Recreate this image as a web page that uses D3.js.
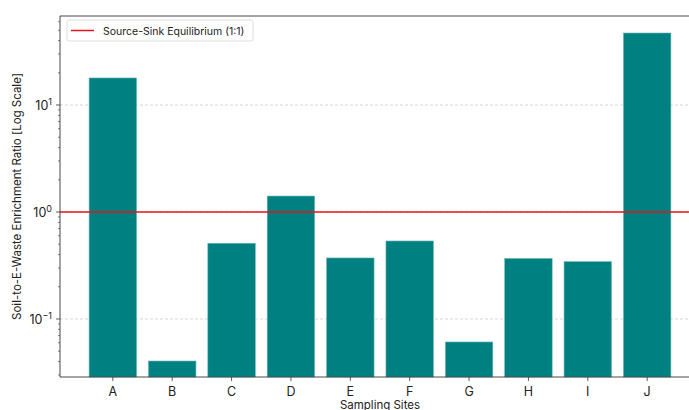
<!DOCTYPE html>
<html>
<head>
<meta charset="utf-8">
<script src="https://cdn.jsdelivr.net/npm/d3@7"></script>
<style>
  body { margin: 0; background: #fff; overflow: hidden; }
  svg { font-family: Inter, "DejaVu Sans", sans-serif; }
</style>
</head>
<body>
<svg id="chart" width="689" height="410"></svg>
<script>
const sites = ['A', 'B', 'C', 'D', 'E', 'F', 'G', 'H', 'I', 'J'];
const ratios = [17.9, 0.0405, 0.51, 1.41, 0.372, 0.536, 0.061, 0.368, 0.344, 47.1];
const majorTicks = [0.1, 1, 10];
const equilibrium = 1;

// the figure's right edge is cropped, so the axes run past the canvas
const margin = { top: 16, right: -11, bottom: 33, left: 60 };
const width = 689 - margin.left - margin.right;
const height = 410 - margin.top - margin.bottom;

const svg = d3.select('#chart');
const g = svg.append('g').attr('transform', `translate(${margin.left},${margin.top})`);

const n = sites.length;
const x = d3.scaleLinear().domain([-0.89, n - 1 + 0.89]).range([0, width]);
const y = d3.scaleLog().domain([0.0287, 67.9]).range([height, 0]);

// grid
g.selectAll('.grid')
  .data(majorTicks)
  .enter().append('line')
  .attr('x1', 0).attr('x2', width)
  .attr('y1', d => y(d)).attr('y2', d => y(d))
  .attr('stroke', '#cccccc')
  .attr('stroke-width', 0.8)
  .attr('stroke-dasharray', '3,2');

// bars
const bw = x(0.4) - x(-0.4);
g.selectAll('.bar')
  .data(sites)
  .enter().append('rect')
  .attr('x', (d, i) => x(i) - bw / 2)
  .attr('width', bw)
  .attr('y', (d, i) => y(ratios[i]))
  .attr('height', (d, i) => height - y(ratios[i]))
  .attr('fill', '#008080')
  .attr('stroke', '#6fb7b7')
  .attr('stroke-width', 0.6);

// equilibrium line
g.append('line')
  .attr('x1', 0).attr('x2', width)
  .attr('y1', y(equilibrium)).attr('y2', y(equilibrium))
  .attr('stroke', '#e8141a')
  .attr('stroke-width', 1.5);

// y axis with minor ticks
const minor = [];
for (let e = -2; e <= 1; e++) {
  for (let m = 2; m <= 9; m++) {
    const v = m * Math.pow(10, e);
    if (v >= y.domain()[0] && v <= y.domain()[1]) minor.push(v);
  }
}
const yAxis = g.append('g');
yAxis.selectAll('.minor')
  .data(minor)
  .enter().append('line')
  .attr('x1', -2).attr('x2', 0)
  .attr('y1', d => y(d)).attr('y2', d => y(d))
  .attr('stroke', '#333').attr('stroke-width', 0.6);
yAxis.selectAll('.major')
  .data(majorTicks)
  .enter().append('line')
  .attr('x1', -4).attr('x2', 0)
  .attr('y1', d => y(d)).attr('y2', d => y(d))
  .attr('stroke', '#333').attr('stroke-width', 0.8);
const yLabels = yAxis.selectAll('.ylab')
  .data(majorTicks)
  .enter().append('text')
  .attr('x', -8)
  .attr('y', d => y(d) + 5)
  .attr('text-anchor', 'end')
  .attr('font-size', 12.5)
  .attr('fill', '#222');
yLabels.append('tspan').text('10');
yLabels.append('tspan')
  .attr('dy', -5)
  .attr('font-size', 9)
  .text(d => String(Math.round(Math.log10(d))).replace('-', '\u2212'));

// x axis ticks
const xAxis = g.append('g').attr('transform', `translate(0,${height})`);
xAxis.selectAll('.xt')
  .data(sites)
  .enter().append('line')
  .attr('x1', (d, i) => x(i)).attr('x2', (d, i) => x(i))
  .attr('y1', 0).attr('y2', 4)
  .attr('stroke', '#333').attr('stroke-width', 0.8);
xAxis.selectAll('.xl')
  .data(sites)
  .enter().append('text')
  .attr('x', (d, i) => x(i))
  .attr('y', 19)
  .attr('text-anchor', 'middle')
  .attr('font-size', 12.5)
  .attr('fill', '#222')
  .text(d => d);

// spines (left, top, bottom; right one falls outside the canvas)
const spine = [[0, 0, 0, height], [0, 0, width, 0], [0, height, width, height]];
g.selectAll('.spine')
  .data(spine)
  .enter().append('line')
  .attr('x1', d => d[0]).attr('y1', d => d[1])
  .attr('x2', d => d[2]).attr('y2', d => d[3])
  .attr('stroke', '#333')
  .attr('stroke-width', 0.9);

// axis titles
svg.append('text')
  .attr('x', margin.left + width / 2)
  .attr('y', 409)
  .attr('text-anchor', 'middle')
  .attr('font-size', 11.5)
  .attr('fill', '#222')
  .text('Sampling Sites');
svg.append('text')
  .attr('transform', `translate(21,${margin.top + height / 2}) rotate(-90)`)
  .attr('text-anchor', 'middle')
  .attr('font-size', 11.5)
  .attr('fill', '#222')
  .text('Soil-to-E-Waste Enrichment Ratio [Log Scale]');

// legend
const legend = g.append('g').attr('transform', 'translate(7,4)');
legend.append('rect')
  .attr('width', 186).attr('height', 21)
  .attr('rx', 2)
  .attr('fill', '#fff')
  .attr('fill-opacity', 0.8)
  .attr('stroke', '#dddddd');
legend.append('line')
  .attr('x1', 4).attr('x2', 27)
  .attr('y1', 10.5).attr('y2', 10.5)
  .attr('stroke', '#e8141a').attr('stroke-width', 1.5);
legend.append('text')
  .attr('x', 36).attr('y', 14.5)
  .attr('font-size', 10.5)
  .attr('fill', '#222')
  .text('Source-Sink Equilibrium (1:1)');
</script>
</body>
</html>
